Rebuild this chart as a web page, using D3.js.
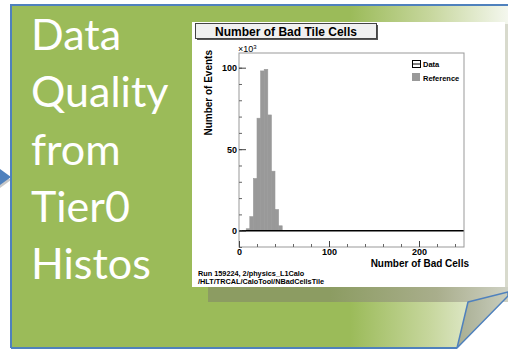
<!DOCTYPE html>
<html>
<head>
<meta charset="utf-8">
<script src="https://cdn.jsdelivr.net/npm/d3@7"></script>
<style>
  html, body { margin: 0; padding: 0; background: #fff; }
  svg { display: block; }
  .hist text { font-family: "Liberation Sans", Arial, sans-serif; font-weight: bold; fill: #000; }
</style>
</head>
<body>
<svg id="slide" width="508" height="349"></svg>
<script>
// slide text
const slideLines = ['Data', 'Quality', 'from', 'Tier0', 'Histos'];

// histogram: lower bin edges (bad cells) and counts (x10^3)
const binEdges = [8, 12, 16, 20, 24, 28, 32, 36, 40, 44];
const binWidth = 4;
const refCounts = [1.2, 8.6, 32, 69, 98, 99, 71, 36.5, 13, 3];
const dataCounts = [0, 0, 0, 0, 0, 0, 0, 0, 0, 0];

const xMajor = [0, 100, 200];
const yMajor = [0, 50, 100];
const legendItems = ['Data', 'Reference'];
const footer = ['Run 159224, 2/physics_L1Calo', '/HLT/TRCAL/CaloTool/NBadCellsTile'];

const svg = d3.select('#slide');
const defs = svg.append('defs');

const bg = defs.append('linearGradient')
  .attr('id', 'bgGrad')
  .attr('gradientUnits', 'userSpaceOnUse')
  .attr('x1', 350).attr('x2', 508).attr('y1', 0).attr('y2', 0);
bg.append('stop').attr('offset', 0).attr('stop-color', '#9bbb59');
bg.append('stop').attr('offset', 0.5).attr('stop-color', '#c6d69c');
bg.append('stop').attr('offset', 1).attr('stop-color', '#f4f7ee');

const sh = defs.append('linearGradient')
  .attr('id', 'shGrad')
  .attr('gradientUnits', 'userSpaceOnUse')
  .attr('x1', 330).attr('x2', 508).attr('y1', 0).attr('y2', 0);
sh.append('stop').attr('offset', 0).attr('stop-color', '#8c9c62');
sh.append('stop').attr('offset', 0.6).attr('stop-color', '#a9ae8c');
sh.append('stop').attr('offset', 1).attr('stop-color', '#cfd1c4');

const fold = defs.append('linearGradient')
  .attr('id', 'foldGrad')
  .attr('x1', 0).attr('x2', 1).attr('y1', 0).attr('y2', 0);
fold.append('stop').attr('offset', 0).attr('stop-color', '#a8ae92');
fold.append('stop').attr('offset', 1).attr('stop-color', '#c9cdbd');

// arrow on the left
svg.append('path')
  .attr('d', 'M0,172 L11,180 L0,188 Z')
  .attr('fill', '#c8c8c8');
svg.append('path')
  .attr('d', 'M0,169 L11,177 L0,185 Z')
  .attr('fill', '#4f81bd');

// green panel with the folded corner cut away
svg.append('path')
  .attr('d', 'M11,5 L508,5 L508,294 L457,348 L11,348 Z')
  .attr('fill', 'url(#bgGrad)');
svg.append('path')
  .attr('d', 'M11,348 L11,5 L508,5')
  .attr('fill', 'none')
  .attr('stroke', '#4f81bd')
  .attr('stroke-width', 2);
svg.append('path')
  .attr('d', 'M11,348 L457,348')
  .attr('fill', 'none')
  .attr('stroke', '#4f81bd')
  .attr('stroke-width', 2);

// shadow under the picture
svg.append('rect')
  .attr('x', 208).attr('y', 287).attr('width', 300).attr('height', 15)
  .attr('fill', 'url(#shGrad)');
svg.append('rect')
  .attr('x', 505).attr('y', 24).attr('width', 3).attr('height', 263)
  .attr('fill', '#d8dacd');

// page curl
svg.append('path')
  .attr('d', 'M468,302 L508,292 L508,296 L457,348 Z')
  .attr('fill', 'url(#foldGrad)')
  .attr('stroke', '#4f81bd')
  .attr('stroke-width', 1.5)
  .attr('stroke-linejoin', 'round');

// slide text
svg.append('g')
  .selectAll('text')
  .data(slideLines)
  .join('text')
  .attr('x', 31)
  .attr('y', (d, i) => 50 + i * 57.3)
  .attr('fill', '#fff')
  .style('font-family', 'Lato, "Open Sans", sans-serif')
  .style('font-size', '43px')
  .text((d) => d);

// the histogram picture
const g = svg.append('g').attr('class', 'hist');

g.append('rect')
  .attr('x', 192).attr('y', 22).attr('width', 313).attr('height', 265)
  .attr('fill', '#fff');

// title box
g.append('rect')
  .attr('x', 197).attr('y', 25).attr('width', 181).attr('height', 15)
  .attr('fill', '#555');
g.append('rect')
  .attr('x', 195.5).attr('y', 23.5).attr('width', 181).attr('height', 15)
  .attr('fill', '#f0f0f0')
  .attr('stroke', '#444')
  .attr('stroke-width', 1);
g.append('text')
  .attr('x', 286).attr('y', 36)
  .attr('text-anchor', 'middle')
  .style('font-size', '12px')
  .text('Number of Bad Tile Cells');

const x = d3.scaleLinear().domain([0, 250]).range([239, 464]);
const y = d3.scaleLinear().domain([-10, 109]).range([247, 53]);

// reference histogram
g.append('g')
  .selectAll('rect')
  .data(refCounts)
  .join('rect')
  .attr('x', (d, i) => x(binEdges[i]))
  .attr('y', (d) => y(d))
  .attr('width', (d, i) => x(binEdges[i] + binWidth) - x(binEdges[i]))
  .attr('height', (d) => y(0) - y(d))
  .attr('fill', '#999')
  .attr('stroke', '#999')
  .attr('stroke-width', 0.6);

// data histogram (empty, drawn as outline)
const dataLine = [[0, 0], ...binEdges.map((e, i) => [e, dataCounts[i]]), [250, 0]];
g.append('path')
  .attr('d', d3.line().x((d) => x(d[0])).y((d) => y(d[1])).curve(d3.curveStepAfter)(dataLine))
  .attr('fill', 'none')
  .attr('stroke', '#000')
  .attr('stroke-width', 1.5);

// frame
g.append('rect')
  .attr('x', x(0)).attr('y', y(109))
  .attr('width', x(250) - x(0)).attr('height', y(-10) - y(109))
  .attr('fill', 'none')
  .attr('stroke', '#999')
  .attr('stroke-width', 1);

// y axis
const yMinor = g.append('g')
  .attr('transform', `translate(${x(0)},0)`)
  .call(d3.axisLeft(y).tickValues(d3.range(-10, 110, 10)).tickSizeInner(-3).tickSizeOuter(0).tickFormat(''));
yMinor.select('.domain').remove();
yMinor.selectAll('line').attr('stroke', '#666');

const yAxis = g.append('g')
  .attr('transform', `translate(${x(0)},0)`)
  .call(d3.axisLeft(y).tickValues(yMajor).tickSizeInner(-7).tickSizeOuter(0).tickPadding(2));
yAxis.select('.domain').remove();
yAxis.selectAll('line').attr('stroke', '#444');
yAxis.selectAll('text')
  .style('font-family', '"Liberation Sans", Arial, sans-serif')
  .style('font-weight', 'bold')
  .style('font-size', '9px')
  .attr('fill', '#000');

// x axis
const xMinor = g.append('g')
  .attr('transform', `translate(0,${y(-10)})`)
  .call(d3.axisBottom(x).tickValues(d3.range(0, 260, 20)).tickSizeInner(-3).tickSizeOuter(0).tickFormat(''));
xMinor.select('.domain').remove();
xMinor.selectAll('line').attr('stroke', '#666');

const xAxis = g.append('g')
  .attr('transform', `translate(0,${y(-10)})`)
  .call(d3.axisBottom(x).tickValues(xMajor).tickSizeInner(-6).tickSizeOuter(0).tickPadding(2));
xAxis.select('.domain').remove();
xAxis.selectAll('line').attr('stroke', '#444');
xAxis.selectAll('text')
  .style('font-family', '"Liberation Sans", Arial, sans-serif')
  .style('font-weight', 'bold')
  .style('font-size', '9px')
  .attr('fill', '#000');

// exponent
const expo = g.append('text')
  .attr('x', 238).attr('y', 52)
  .style('font-size', '9px')
  .style('font-weight', 'normal');
expo.append('tspan').text('\u00d710');
expo.append('tspan').attr('dy', -3).style('font-size', '6px').text('3');

// axis titles
g.append('text')
  .attr('transform', 'translate(212,50) rotate(-90)')
  .attr('text-anchor', 'end')
  .style('font-size', '10px')
  .text('Number of Events');

g.append('text')
  .attr('x', 469).attr('y', 267)
  .attr('text-anchor', 'end')
  .style('font-size', '10px')
  .text('Number of Bad Cells');

// legend
const legend = g.append('g').attr('transform', 'translate(412,60)');
legend.append('rect')
  .attr('x', 0.5).attr('y', 0.5).attr('width', 8).attr('height', 7)
  .attr('fill', '#fff').attr('stroke', '#000');
legend.append('line')
  .attr('x1', 0.5).attr('x2', 8.5).attr('y1', 4).attr('y2', 4)
  .attr('stroke', '#000');
legend.append('rect')
  .attr('x', 0).attr('y', 13).attr('width', 8).attr('height', 8)
  .attr('fill', '#999');
legend.selectAll('text.leg')
  .data(legendItems)
  .join('text')
  .attr('class', 'leg')
  .attr('x', 11)
  .attr('y', (d, i) => 7 + i * 13.5)
  .style('font-size', '7.5px')
  .text((d) => d);

// footer
g.selectAll('text.foot')
  .data(footer)
  .join('text')
  .attr('class', 'foot')
  .attr('x', 198)
  .attr('y', (d, i) => 276 + i * 8)
  .style('font-size', '7.3px')
  .text((d) => d);
</script>
</body>
</html>
